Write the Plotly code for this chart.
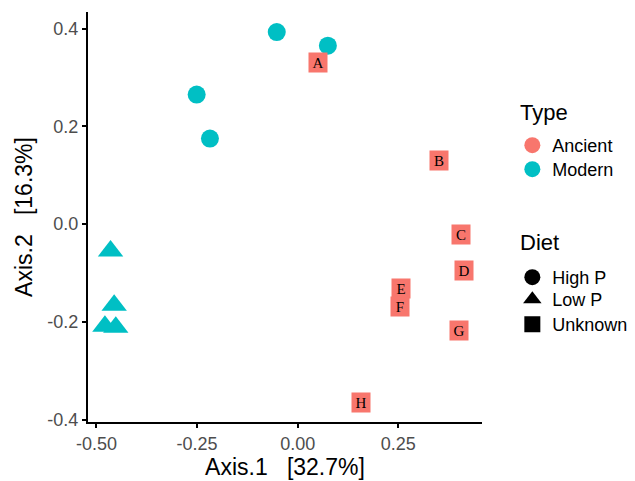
import plotly.graph_objects as go

# Modern samples
modern_circle_x = [-0.052, 0.075, -0.251, -0.218]
modern_circle_y = [0.393, 0.365, 0.265, 0.175]
modern_tri_x = [-0.465, -0.456, -0.479, -0.452]
modern_tri_y = [-0.055, -0.166, -0.209, -0.211]

# Ancient samples (Unknown diet), labelled
ancient_labels = ["A", "B", "C", "D", "E", "F", "G", "H"]
ancient_x = [0.050, 0.352, 0.405, 0.413, 0.257, 0.255, 0.400, 0.157]
ancient_y = [0.331, 0.131, -0.021, -0.094, -0.132, -0.168, -0.218, -0.366]

x_ticks = [-0.50, -0.25, 0.00, 0.25]
x_tick_labels = ["-0.50", "-0.25", "0.00", "0.25"]
y_ticks = [-0.4, -0.2, 0.0, 0.2, 0.4]
y_tick_labels = ["-0.4", "-0.2", "0.0", "0.2", "0.4"]

type_names = ["Ancient", "Modern"]
diet_names = ["High P", "Low P", "Unknown"]

RED = "#F8766D"
TEAL = "#00BFC4"

fig = go.Figure()

fig.add_trace(go.Scatter(x=ancient_x, y=ancient_y, mode="markers",
                         marker=dict(symbol="square", size=13, color=RED),
                         showlegend=False, hoverinfo="skip"))
fig.add_trace(go.Scatter(x=modern_circle_x, y=modern_circle_y, mode="markers",
                         marker=dict(symbol="circle", size=18, color=TEAL),
                         showlegend=False))
fig.add_trace(go.Scatter(x=modern_tri_x, y=modern_tri_y, mode="markers",
                         marker=dict(symbol="triangle-up", size=22, color=TEAL),
                         showlegend=False))

# one legend box per entry so spacing can follow the reference
legend_ids = ["legend", "legend2", "legend3", "legend4", "legend5"]
legend_y = [0.7195, 0.661, 0.3976, 0.3439, 0.2829]

entries = [(type_names[0], "circle", RED), (type_names[1], "circle", TEAL),
           (diet_names[0], "circle", "black"), (diet_names[1], "triangle-up", "black"),
           (diet_names[2], "square", "black")]
for (name, sym, col), lid in zip(entries, legend_ids):
    fig.add_trace(go.Scatter(x=[None], y=[None], mode="markers", name=name,
                             marker=dict(symbol=sym, size=16, color=col),
                             legend=lid))

for lab, x, y in zip(ancient_labels, ancient_x, ancient_y):
    fig.add_annotation(x=x, y=y, text=lab, showarrow=False,
                       font=dict(family="Liberation Serif", size=15, color="black"),
                       bgcolor=RED, width=14, height=15, borderpad=2,
                       xref="x", yref="y")

# Legend titles
fig.add_annotation(x=1.091, y=0.754, xref="paper", yref="paper", text="Type",
                   showarrow=False, xanchor="left", yanchor="middle",
                   font=dict(family="Liberation Sans", size=22, color="black"))
fig.add_annotation(x=1.091, y=0.437, xref="paper", yref="paper", text="Diet",
                   showarrow=False, xanchor="left", yanchor="middle",
                   font=dict(family="Liberation Sans", size=22, color="black"))

axis_common = dict(showline=True, linecolor="black", linewidth=2, ticks="outside",
                   ticklen=4, tickwidth=1.5, tickcolor="black", showgrid=False,
                   zeroline=False, mirror=False, automargin=False,
                   tickfont=dict(family="Liberation Sans", size=18, color="#4D4D4D"))

layout_legends = {}
for lid, ly in zip(legend_ids, legend_y):
    layout_legends[lid] = dict(font=dict(size=18), x=1.077, y=ly, xanchor="left",
                               yanchor="top", bgcolor="rgba(0,0,0,0)")

fig.update_layout(
    width=635, height=481,
    margin=dict(l=88, r=153, t=12, b=59, autoexpand=False),
    paper_bgcolor="white", plot_bgcolor="white",
    font=dict(family="Liberation Sans", color="black"),
    xaxis=dict(range=[-0.521, 0.458], tickvals=x_ticks, ticktext=x_tick_labels,
               title=dict(text="Axis.1   [32.7%]", font=dict(size=23, color="black"), standoff=6),
               **axis_common),
    yaxis=dict(range=[-0.405, 0.434], tickvals=y_ticks, ticktext=y_tick_labels,
               title=dict(text="Axis.2   [16.3%]", font=dict(size=23, color="black"), standoff=8),
               **axis_common),
    **layout_legends,
)

fig.write_html("out.html", config={"displayModeBar": False},
               post_script="document.body.style.margin='0';")
